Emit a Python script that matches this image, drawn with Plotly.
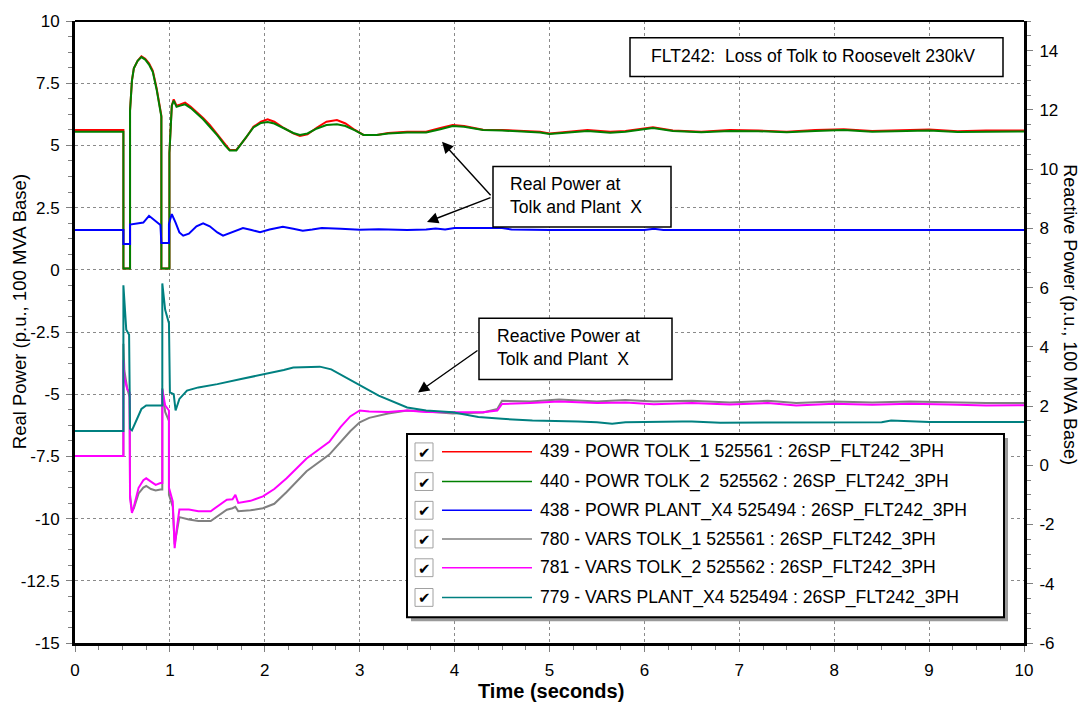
import plotly.graph_objects as go

# ---------------- data ----------------
t_powr_tolk = [0, 0.51, 0.51, 0.58, 0.58, 0.6, 0.62, 0.66, 0.70, 0.74, 0.78, 0.82, 0.86, 0.89, 0.91, 0.91,
               0.995, 0.995, 1.02, 1.04, 1.07, 1.11, 1.16, 1.22, 1.28, 1.35, 1.42, 1.5, 1.58, 1.63, 1.70,
               1.8, 1.88, 1.96, 2.03, 2.1, 2.2, 2.3, 2.37, 2.45, 2.55, 2.65, 2.76, 2.85, 2.95, 3.04, 3.18,
               3.3, 3.5, 3.7, 3.85, 3.98, 4.1, 4.3, 4.5, 4.7, 4.9, 5.0, 5.2, 5.4, 5.64, 5.8, 6.09, 6.3,
               6.6, 6.9, 7.2, 7.5, 7.8, 8.1, 8.4, 8.7, 9.0, 9.3, 9.6, 10]
powr_tolk_1 = [5.62, 5.62, 0.05, 0.05, 6.4, 7.6, 8.1, 8.4, 8.58, 8.48, 8.3, 8.0, 7.3, 6.7, 6.2, 0.05,
               0.05, 4.7, 6.6, 6.85, 6.6, 6.65, 6.72, 6.55, 6.35, 6.1, 5.82, 5.45, 5.05, 4.82, 4.82,
               5.3, 5.75, 5.95, 6.05, 5.95, 5.7, 5.48, 5.38, 5.45, 5.72, 5.95, 6.02, 5.88, 5.62, 5.42, 5.42,
               5.5, 5.55, 5.55, 5.7, 5.82, 5.78, 5.63, 5.62, 5.58, 5.55, 5.48, 5.55, 5.62, 5.55, 5.58, 5.73, 5.6,
               5.55, 5.62, 5.6, 5.55, 5.62, 5.65, 5.58, 5.62, 5.64, 5.57, 5.6, 5.6]
powr_tolk_2 = [5.55, 5.55, 0.05, 0.05, 6.4, 7.6, 8.1, 8.4, 8.55, 8.45, 8.25, 7.95, 7.25, 6.65, 6.15, 0.05,
               0.05, 4.7, 6.6, 6.8, 6.55, 6.6, 6.65, 6.5, 6.3, 6.05, 5.75, 5.4, 5.0, 4.8, 4.8,
               5.3, 5.72, 5.9, 5.94, 5.88, 5.68, 5.5, 5.42, 5.48, 5.68, 5.82, 5.85, 5.78, 5.6, 5.42, 5.42,
               5.48, 5.52, 5.52, 5.65, 5.78, 5.75, 5.62, 5.6, 5.56, 5.52, 5.46, 5.52, 5.58, 5.51, 5.55, 5.7, 5.58,
               5.53, 5.58, 5.57, 5.53, 5.58, 5.62, 5.55, 5.58, 5.6, 5.54, 5.56, 5.56]

t_powr_plant = [0, 0.51, 0.51, 0.58, 0.58, 0.66, 0.72, 0.78, 0.84, 0.9, 0.91, 0.99, 0.99, 1.02, 1.06, 1.1,
                1.14, 1.2, 1.28, 1.35, 1.42, 1.5, 1.56, 1.65, 1.77, 1.86, 1.95, 2.05, 2.19, 2.3, 2.4, 2.5,
                2.6, 2.8, 3.0, 3.2, 3.5, 3.7, 3.8, 3.9, 4.0, 4.5, 4.6, 5.0, 5.5, 6.0, 6.1, 6.2, 6.5, 7, 8, 9, 10]
powr_plant = [1.6, 1.6, 1.04, 1.04, 1.82, 1.85, 1.9, 2.17, 2.0, 1.8, 1.08, 1.08, 1.85, 2.24, 1.9, 1.5,
              1.37, 1.45, 1.75, 1.87, 1.75, 1.5, 1.37, 1.5, 1.68, 1.6, 1.51, 1.62, 1.73, 1.65, 1.57, 1.62,
              1.68, 1.65, 1.61, 1.63, 1.6, 1.62, 1.66, 1.62, 1.68, 1.68, 1.62, 1.6, 1.6, 1.6, 1.65, 1.6, 1.6, 1.6, 1.6, 1.6, 1.6]

t_vars_tolk = [0, 0.51, 0.51, 0.52, 0.55, 0.575, 0.58, 0.6, 0.62, 0.67, 0.72, 0.75, 0.8, 0.85, 0.9, 0.92,
               0.92, 0.95, 0.99, 0.99, 1.03, 1.05, 1.07, 1.1, 1.2, 1.3, 1.43, 1.6, 1.66, 1.69, 1.72, 1.85,
               1.98, 2.1, 2.23, 2.44, 2.68, 2.8, 2.9, 3.0, 3.1, 3.3, 3.5, 3.7, 3.98, 4.3, 4.45, 4.5, 4.8,
               5.1, 5.5, 5.8, 6.1, 6.5, 6.9, 7.3, 7.6, 8.0, 8.4, 8.8, 9.2, 9.6, 10]
vars_tolk_1 = [0.31, 0.31, 4.1, 3.2, 2.6, 2.3, -1.0, -1.55, -1.45, -0.95, -0.75, -0.7, -0.8, -0.85, -0.82, -0.82,
               2.6, 1.8, 1.5, -1.0, -1.4, -2.67, -2.3, -1.75, -1.83, -1.88, -1.88, -1.5, -1.45, -1.4, -1.55, -1.52,
               -1.45, -1.3, -0.9, -0.2, 0.36, 0.8, 1.15, 1.45, 1.6, 1.75, 1.85, 1.82, 1.75, 1.78, 1.9, 2.18, 2.15,
               2.22, 2.15, 2.2, 2.15, 2.18, 2.12, 2.18, 2.1, 2.15, 2.12, 2.15, 2.12, 2.1, 2.1]
vars_tolk_2 = [0.31, 0.31, 3.55, 2.96, 2.57, 2.46, -1.1, -1.61, -1.4, -0.76, -0.5, -0.44, -0.55, -0.66, -0.6, -0.6,
               2.57, 2.02, 1.85, -0.76, -1.22, -2.8, -2.2, -1.49, -1.49, -1.55, -1.55, -1.16, -1.15, -1.0, -1.27, -1.2,
               -1.05, -0.8, -0.44, 0.23, 0.79, 1.3, 1.65, 1.85, 1.82, 1.8, 1.85, 1.8, 1.79, 1.79, 1.85, 2.07, 2.1,
               2.15, 2.1, 2.12, 2.06, 2.1, 2.05, 2.1, 2.02, 2.08, 2.04, 2.08, 2.05, 2.02, 2.03]

t_vars_plant = [0, 0.51, 0.51, 0.52, 0.54, 0.57, 0.58, 0.6, 0.65, 0.7, 0.75, 0.92, 0.92, 0.95, 0.99, 1.0,
                1.04, 1.06, 1.1, 1.18, 1.3, 1.5, 1.75, 2.0, 2.2, 2.3, 2.58, 2.7, 2.93, 3.2, 3.5, 3.7,
                3.98, 4.09, 4.25, 4.5, 4.82, 5.3, 5.5, 5.66, 5.8, 6.4, 6.5, 6.8, 7.5, 8.5, 8.6, 9.0, 10]
vars_plant = [1.16, 1.16, 6.08, 5.47, 4.58, 4.41, 1.23, 1.18, 1.57, 1.9, 2.02, 2.02, 6.14, 5.25, 4.8, 2.46,
              2.4, 1.85, 2.24, 2.52, 2.63, 2.74, 2.91, 3.07, 3.22, 3.3, 3.33, 3.24, 2.82, 2.35, 1.95, 1.85,
              1.79, 1.72, 1.63, 1.57, 1.51, 1.48, 1.45, 1.40, 1.45, 1.48, 1.48, 1.44, 1.44, 1.45, 1.51, 1.46, 1.46]

series_names = [
    "439 - POWR TOLK_1 525561 : 26SP_FLT242_3PH",
    "440 - POWR TOLK_2  525562 : 26SP_FLT242_3PH",
    "438 - POWR PLANT_X4 525494 : 26SP_FLT242_3PH",
    "780 - VARS TOLK_1 525561 : 26SP_FLT242_3PH",
    "781 - VARS TOLK_2 525562 : 26SP_FLT242_3PH",
    "779 - VARS PLANT_X4 525494 : 26SP_FLT242_3PH",
]

x_tick_vals = [0, 1, 2, 3, 4, 5, 6, 7, 8, 9, 10]
x_tick_text = ["0", "1", "2", "3", "4", "5", "6", "7", "8", "9", "10"]
y_tick_vals = [10, 7.5, 5, 2.5, 0, -2.5, -5, -7.5, -10, -12.5, -15]
y_tick_text = ["10", "7.5", "5", "2.5", "0", "-2.5", "-5", "-7.5", "-10", "-12.5", "-15"]
y2_tick_vals = [14, 12, 10, 8, 6, 4, 2, 0, -2, -4, -6]
y2_tick_text = ["14", "12", "10", "8", "6", "4", "2", "0", "-2", "-4", "-6"]

title_text = "FLT242:  Loss of Tolk to Roosevelt 230kV"
real_note = "Real Power at<br>Tolk and Plant  X"
reactive_note = "Reactive Power at<br>Tolk and Plant  X"

for a, b in [(t_powr_tolk, powr_tolk_1), (t_powr_tolk, powr_tolk_2), (t_powr_plant, powr_plant),
             (t_vars_tolk, vars_tolk_1), (t_vars_tolk, vars_tolk_2), (t_vars_plant, vars_plant)]:
    assert len(a) == len(b), (len(a), len(b))

# ---------------- figure ----------------
colors = ["#FF0000", "#008000", "#0000FF", "#808080", "#FF00FF", "#008080"]
FONT = "Arial, Liberation Sans, sans-serif"

fig = go.Figure()
traces = [
    (t_powr_tolk, powr_tolk_1, "y"),
    (t_powr_tolk, powr_tolk_2, "y"),
    (t_powr_plant, powr_plant, "y"),
    (t_vars_tolk, vars_tolk_1, "y2"),
    (t_vars_tolk, vars_tolk_2, "y2"),
    (t_vars_plant, vars_plant, "y2"),
]
for (tx, vy, ax), name, col in zip(traces, series_names, colors):
    fig.add_trace(go.Scatter(x=tx, y=vy, mode="lines", name=name, yaxis=ax,
                             line=dict(color=col, width=2), showlegend=False))

W, H = 1086, 707
L, R, T, B = 75, 62, 15, 64
PW, PH = W - L - R, H - T - B


def px(x):
    return (x - L) / PW


def py(y):
    return (H - B - y) / PH


shapes = []
annotations = []

# top frame line
shapes.append(dict(type="line", xref="paper", yref="paper", x0=0, x1=1, y0=1, y1=1,
                   line=dict(color="black", width=2), layer="above"))


def box(x0, y0, x1, y1, lw=1.5):
    shapes.append(dict(type="rect", xref="paper", yref="paper", x0=px(x0), x1=px(x1), y0=py(y1), y1=py(y0),
                       line=dict(color="black", width=lw), fillcolor="white", layer="above"))


TXT = 17.6
# note boxes
box(630, 32, 1003, 71)
annotations.append(dict(text=title_text, xref="paper", yref="paper", x=px(813), y=py(50),
                        xanchor="center", yanchor="middle", showarrow=False,
                        font=dict(size=TXT, family=FONT, color="black")))
box(493, 162, 671, 223)
annotations.append(dict(text=real_note, xref="paper", yref="paper", x=px(508), y=py(191),
                        xanchor="left", yanchor="middle", align="left", showarrow=False,
                        font=dict(size=TXT, family=FONT, color="black")))
box(479, 315, 672, 377)
annotations.append(dict(text=reactive_note, xref="paper", yref="paper", x=px(495), y=py(345),
                        xanchor="left", yanchor="middle", align="left", showarrow=False,
                        font=dict(size=TXT, family=FONT, color="black")))

# arrows (head, tail)
for (hx, hy), (tx_, ty_) in [((442, 137), (492, 192)), ((427, 218), (492, 193)), ((418, 390), (479, 347))]:
    annotations.append(dict(text="", xref="paper", yref="paper", x=px(hx), y=py(hy),
                            ax=tx_ - hx, ay=ty_ - hy, axref="pixel", ayref="pixel",
                            showarrow=True, arrowhead=2, arrowsize=1.6, arrowwidth=1.4,
                            arrowcolor="black", standoff=0, startstandoff=0))

# legend (drawn manually)
lx0, ly0, lx1, ly1 = 407, 432, 1004, 617
shapes.append(dict(type="rect", xref="paper", yref="paper", x0=px(lx0 + 4), x1=px(lx1 + 4),
                   y0=py(ly1 + 4), y1=py(ly0 + 4), line=dict(width=0), fillcolor="#9a9a9a", layer="above"))
box(lx0, ly0, lx1, ly1, lw=2)
row_y = [450, 480, 509, 538, 567, 597]
for ry, name, col in zip(row_y, series_names, colors):
    shapes.append(dict(type="rect", xref="paper", yref="paper", x0=px(415), x1=px(433),
                       y0=py(ry + 9), y1=py(ry - 9), line=dict(color="#a0a0a0", width=1),
                       fillcolor="white", layer="above"))
    annotations.append(dict(text="✔", xref="paper", yref="paper", x=px(424), y=py(ry + 1),
                            xanchor="center", yanchor="middle", showarrow=False,
                            font=dict(size=15, family="DejaVu Sans", color="black")))
    shapes.append(dict(type="line", xref="paper", yref="paper", x0=px(442), x1=px(532),
                       y0=py(ry), y1=py(ry), line=dict(color=col, width=1.5), layer="above"))
    annotations.append(dict(text=name, xref="paper", yref="paper", x=px(538), y=py(ry),
                            xanchor="left", yanchor="middle", showarrow=False,
                            font=dict(size=TXT, family=FONT, color="black")))

# axis titles
annotations.append(dict(text="Real Power (p.u., 100 MVA Base)", xref="paper", yref="paper",
                        x=px(19), y=py(309), textangle=-90, xanchor="center", yanchor="middle",
                        showarrow=False, font=dict(size=18.5, family=FONT, color="black")))
annotations.append(dict(text="Reactive Power (p.u., 100 MVA Base)", xref="paper", yref="paper",
                        x=px(1070), y=py(311), textangle=90, xanchor="center", yanchor="middle",
                        showarrow=False, font=dict(size=18, family=FONT, color="black")))
annotations.append(dict(text="<b>Time (seconds)</b>", xref="paper", yref="paper",
                        x=px(551), y=py(691), xanchor="center", yanchor="middle",
                        showarrow=False, font=dict(size=20, family=FONT, color="black")))

grid = dict(showgrid=True, gridcolor="#8a8a8a", gridwidth=1, griddash="dot")
fig.update_layout(
    width=W, height=H,
    margin=dict(l=L, r=R, t=T, b=B, pad=0),
    plot_bgcolor="white", paper_bgcolor="white",
    font=dict(family=FONT, size=17, color="black"),
    xaxis=dict(range=[0, 10], tickmode="array", tickvals=x_tick_vals, ticktext=x_tick_text,
               showline=True, linecolor="black", linewidth=3, ticks="outside", ticklen=6,
               tickcolor="#808080", tickwidth=1, zeroline=False, ticklabelstandoff=4,
               minor=dict(tick0=0, dtick=0.25, ticks="outside", ticklen=4, tickcolor="#808080", showgrid=False),
               **grid),
    yaxis=dict(range=[-15, 10], tickmode="array", tickvals=y_tick_vals, ticktext=y_tick_text,
               showline=True, linecolor="black", linewidth=3, ticks="outside", ticklen=6,
               tickcolor="#808080", tickwidth=1, zeroline=False, ticklabelstandoff=3,
               minor=dict(tick0=0, dtick=0.625, ticks="outside", ticklen=4, tickcolor="#808080", showgrid=False),
               **grid),
    yaxis2=dict(range=[-6, 15], overlaying="y", side="right", tickmode="array", tickvals=y2_tick_vals,
                ticktext=y2_tick_text, showline=True, linecolor="black", linewidth=3, ticks="outside",
                ticklen=6, tickcolor="#808080", tickwidth=1, zeroline=False, showgrid=False,
                ticklabelstandoff=3,
                minor=dict(tick0=0, dtick=0.5, ticks="outside", ticklen=4, tickcolor="#808080", showgrid=False)),
    shapes=shapes,
    annotations=annotations,
    showlegend=False,
)

fig.write_html("out.html")
